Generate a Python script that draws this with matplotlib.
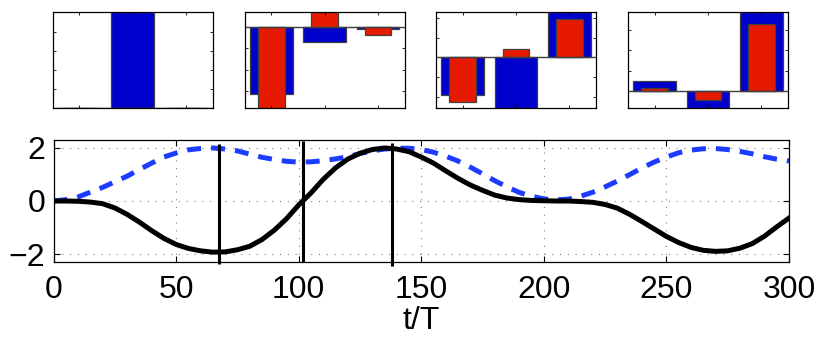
import numpy as np
import matplotlib
matplotlib.use("Agg")
import matplotlib.pyplot as plt

plt.rcParams['font.family'] = ['Liberation Sans', 'DejaVu Sans']

# main curves, every 5 t/T
t = np.arange(0, 301, 5)
x_solid = [0, 0, -0.01, -0.04, -0.10, -0.26, -0.50, -0.79, -1.11, -1.40,
           -1.63, -1.78, -1.87, -1.92, -1.91, -1.83, -1.70, -1.45, -1.10, -0.67,
           -0.15, 0.30, 0.81, 1.24, 1.57, 1.79, 1.93, 1.99, 1.95, 1.85,
           1.65, 1.42, 1.13, 0.85, 0.60, 0.40, 0.22, 0.11, 0.05, 0.02,
           0.01, 0.0, 0.0, -0.02, -0.05, -0.13, -0.27, -0.50, -0.77, -1.05,
           -1.33, -1.56, -1.74, -1.85, -1.89, -1.87, -1.77, -1.60, -1.32, -0.97,
           -0.64]
x_dash = [0, 0.05, 0.15, 0.33, 0.51, 0.72, 0.93, 1.18, 1.42, 1.65,
          1.80, 1.92, 1.97, 1.99, 1.95, 1.88, 1.76, 1.64, 1.56, 1.49,
          1.46, 1.47, 1.51, 1.58, 1.66, 1.78, 1.88, 1.95, 1.98, 1.98,
          1.93, 1.83, 1.68, 1.50, 1.27, 1.02, 0.76, 0.53, 0.32, 0.18,
          0.08, 0.04, 0.07, 0.18, 0.33, 0.53, 0.75, 0.99, 1.24, 1.46,
          1.65, 1.81, 1.91, 1.96, 1.97, 1.93, 1.86, 1.77, 1.66, 1.57,
          1.50]

# vertical markers: time, bottom, top
mark_t = [67.6, 101.9, 137.9]
mark_lo = [-2.37, -2.29, -2.43]
mark_hi = [2.14, 2.24, 2.18]

# inset bar charts (3 states each)
states = [1, 2, 3]
blue_vals = [[0, 1.0, 0],
             [-0.626, -0.14, -0.018],
             [-0.38, -0.52, 0.46],
             [0.093, -0.17, 0.77]]
red_vals = [[0, 0, 0],
            [-0.756, 0.134, -0.08],
            [-0.455, 0.082, 0.39],
            [0.027, -0.085, 0.654]]

W, H = 830, 342
fig = plt.figure(figsize=(W / 100, H / 100), dpi=100)

inset_left = [52.7, 244.7, 436, 628]
for k in range(4):
    ax = fig.add_axes([inset_left[k] / W, (H - 108.3) / H, 160 / W, 96 / H])
    ax.bar(states, blue_vals[k], width=0.8, color='#0000cc', edgecolor='#404040', lw=0.9)
    ax.bar(states, red_vals[k], width=0.5, color='#e61a00', edgecolor='#404040', lw=0.9)
    ax.axhline(0, color='#404040', lw=1)
    lo = min(0, min(blue_vals[k]), min(red_vals[k]))
    hi = max(0, max(blue_vals[k]), max(red_vals[k]))
    ax.set_xlim(0.5, 3.5)
    ax.set_ylim(lo, hi)
    ax.set_xticks(states)
    ax.set_yticks(np.arange(-1, 1.01, 0.2))
    ax.set_ylim(lo, hi)
    ax.tick_params(direction='in', length=2, width=0.6, top=True, right=True,
                   labelbottom=False, labelleft=False)
    for s in ax.spines.values():
        s.set_linewidth(0.9)

ax = fig.add_axes([53.5 / W, (H - 262.3) / H, (789 - 53.5) / W, (262.3 - 139.7) / H])
ax.plot(t, x_dash, color='#1e3cff', lw=3.6, dashes=(2.8, 2.0))
ax.plot(t, x_solid, color='black', lw=3.6)
for i in range(len(mark_t)):
    ax.plot([mark_t[i], mark_t[i]], [mark_lo[i], mark_hi[i]], color='black', lw=2.2,
            clip_on=False, solid_capstyle='butt')
ax.set_xlim(0, 300)
ax.set_ylim(-2.3, 2.3)
ax.set_xticks(range(0, 301, 50))
ax.set_yticks([-2, 0, 2])
ax.set_yticklabels(['\u22122', '0', '2'])
ax.grid(True, color='#808080', lw=0.8, dashes=(1, 6))
ax.tick_params(direction='in', length=4, width=0.8, top=True, right=True, labelsize=23)
ax.tick_params(axis='x', pad=9)
ax.tick_params(axis='y', pad=6)
ax.set_xlabel('t/T', fontsize=23, labelpad=1)
for s in ax.spines.values():
    s.set_linewidth(0.9)

fig.savefig('out.png', dpi=100)
